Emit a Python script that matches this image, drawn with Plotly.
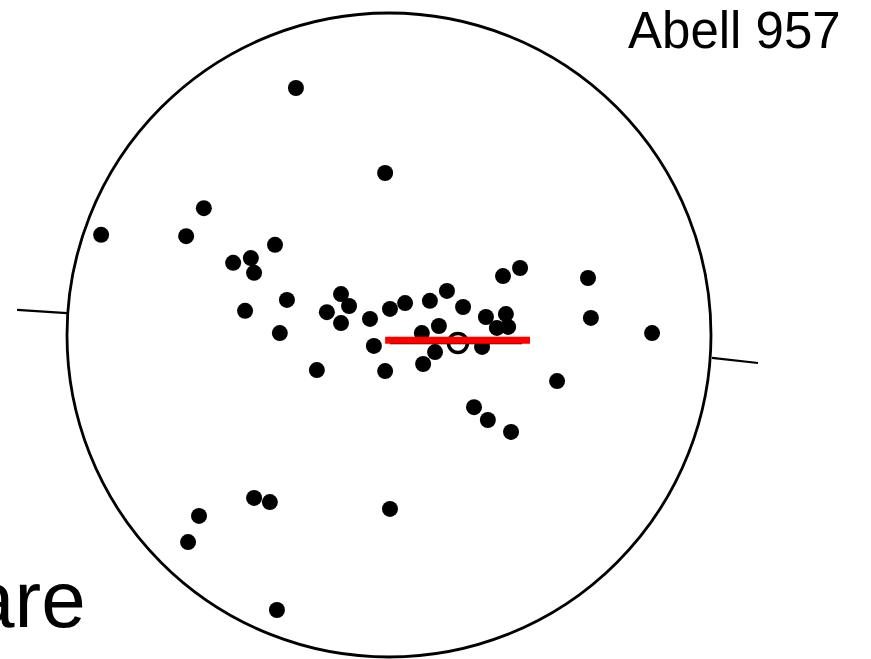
import plotly.graph_objects as go

# Galaxy offsets from cluster centre (arbitrary units, circle radius = 10)
gal_x = [-2.89, -0.12, -5.75, -8.94, -6.30, -3.54, -4.84, -4.29, -4.19, -3.17,
         -4.47, -3.39, -1.49, -1.24, -1.93, -1.49, -0.59, 0.03, 0.50, 1.27,
         -0.47, -2.24, -0.12, 1.02, 1.06, 4.07, 3.54, 1.80, 2.30, 3.01,
         3.63, 3.70, 3.35, 1.55, 2.89, 1.43, 6.18, 6.27, 8.17, 5.22,
         2.64, 3.07, 3.79, -5.90, -6.24, -4.19, -3.70, 0.03, -3.48]
gal_y = [7.67, 5.03, 3.94, 3.11, 3.07, 2.80, 2.24, 2.39, 1.93, 1.09,
         0.75, 0.06, 1.27, 0.90, 0.71, 0.37, 0.50, 0.81, 0.99, 1.06,
         -0.34, -1.09, -1.12, 0.06, -0.90, 2.08, 1.83, 1.37, 0.87, 0.56,
         0.65, 0.25, 0.22, 0.28, -0.37, -0.53, 1.77, 0.53, 0.06, -1.43,
         -2.24, -2.64, -3.01, -5.62, -6.43, -5.06, -5.19, -5.40, -8.54]

bcg_x = [2.14]
bcg_y = [-0.25]

bar_x = [-0.12, 4.38]
bar_y = [-0.16, -0.16]
under_x = [0.03, 4.13]
under_y = [-0.26, -0.26]

circle_r = 10.0
tick_left_x = [-11.55, -10.0]
tick_left_y = [0.78, 0.68]
tick_right_x = [10.03, 11.46]
tick_right_y = [-0.71, -0.87]

title_text = "Abell 957"
side_text = "are"

W, H = 871, 659
scale = 32.2
cx_px, cy_px = 389, 335
x_range = [(0 - cx_px) / scale, (W - cx_px) / scale]
y_range = [(cy_px - H) / scale, (cy_px - 0) / scale]

fig = go.Figure()

fig.add_trace(go.Scatter(x=under_x, y=under_y, mode="lines",
                         line=dict(color="black", width=2), hoverinfo="skip"))
fig.add_trace(go.Scatter(x=gal_x, y=gal_y, mode="markers",
                         marker=dict(color="black", size=16, line=dict(width=0))))
fig.add_trace(go.Scatter(x=bcg_x, y=bcg_y, mode="markers",
                         marker=dict(symbol="circle-open", color="black", size=19,
                                     line=dict(width=3.5, color="black"))))
fig.add_trace(go.Scatter(x=bar_x, y=bar_y, mode="lines",
                         line=dict(color="#ff0000", width=7)))
fig.add_trace(go.Scatter(x=tick_left_x, y=tick_left_y, mode="lines",
                         line=dict(color="black", width=2.2)))
fig.add_trace(go.Scatter(x=tick_right_x, y=tick_right_y, mode="lines",
                         line=dict(color="black", width=2.2)))

fig.add_shape(type="circle", xref="x", yref="y",
              x0=-circle_r, x1=circle_r, y0=-circle_r, y1=circle_r,
              line=dict(color="black", width=2.8), layer="below")

fig.add_annotation(text=title_text, xref="paper", yref="paper",
                   x=843 / W, y=1.0, xanchor="right", yanchor="top",
                   showarrow=False,
                   font=dict(family="Liberation Sans, Arial", size=51, color="black"))
fig.add_annotation(text=side_text, xref="paper", yref="paper",
                   x=88 / W, y=1 - 646 / H, xanchor="right", yanchor="bottom",
                   showarrow=False,
                   font=dict(family="Liberation Sans Narrow, Arial Narrow, Liberation Sans", size=80, color="black"))

fig.update_layout(width=W, height=H, margin=dict(l=0, r=0, t=0, b=0),
                  paper_bgcolor="white", plot_bgcolor="white", showlegend=False,
                  xaxis=dict(range=x_range, visible=False, fixedrange=True),
                  yaxis=dict(range=y_range, visible=False, fixedrange=True))

fig.write_html("out.html", config={"displayModeBar": False})
